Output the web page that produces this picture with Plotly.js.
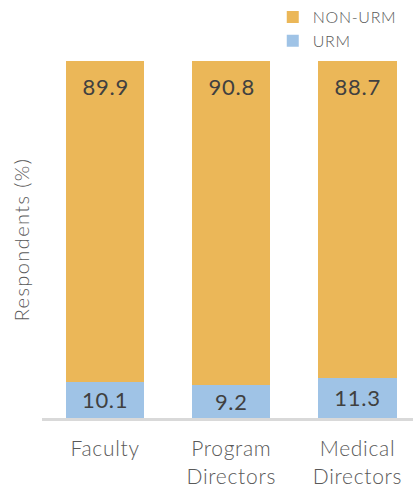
<!DOCTYPE html>
<html>
<head>
<meta charset="utf-8">
<script src="https://cdn.plot.ly/plotly-3.0.1.min.js"></script>
<style>
html,body{margin:0;padding:0;background:#fff;}
#chart{width:413px;height:495px;}
#chart text{letter-spacing:0.7px;}
#chart .g-ytitle text{letter-spacing:1.4px;}
</style>
</head>
<body>
<div id="chart"></div>
<script>
const categories = ['Faculty', 'Program<br>Directors', 'Medical<br>Directors'];
const urm = [10.1, 9.2, 11.3];
const nonUrm = [89.9, 90.8, 88.7];
const seriesNames = ['URM', 'NON-URM'];

const fontFam = 'Lato, "Open Sans", sans-serif';

const traces = [
  {
    type: 'bar', name: seriesNames[0], x: categories, y: urm,
    marker: {color: '#9FC3E6'},
    text: urm.map(v => v.toFixed(1)), textposition: 'inside', insidetextanchor: 'middle',
    textfont: {family: fontFam, size: 22, color: '#404040', weight: 400},
    hoverinfo: 'none', width: 0.62
  },
  {
    type: 'bar', name: seriesNames[1], x: categories, y: nonUrm,
    marker: {color: '#EBB758'},
    hoverinfo: 'none', width: 0.62
  }
];

// labels for the NON-URM segments, placed near the top of each stacked bar
const annotations = categories.map((c, i) => ({
  x: c, y: urm[i] + nonUrm[i], xref: 'x', yref: 'y',
  text: nonUrm[i].toFixed(1), showarrow: false,
  yanchor: 'middle', yshift: -25,
  font: {family: fontFam, size: 22, color: '#404040', weight: 400}
}));

const layout = {
  width: 413, height: 495,
  margin: {l: 42, r: 0, t: 58, b: 77},
  paper_bgcolor: '#fff', plot_bgcolor: '#fff',
  barmode: 'stack',
  showlegend: true,
  annotations: annotations,
  legend: {
    x: 0.622, y: 1.172, xanchor: 'left', yanchor: 'top',
    traceorder: 'reversed',
    font: {family: fontFam, size: 16, color: '#595959', weight: 300},
    tracegroupgap: 0, itemclick: false
  },
  xaxis: {
    range: [-0.5, 2.44],
    showline: true, linecolor: '#D9D9D9', linewidth: 3,
    ticks: '', showgrid: false, zeroline: false,
    tickfont: {family: fontFam, size: 21, color: '#595959', weight: 300},
    ticklabelstandoff: 10
  },
  yaxis: {
    range: [0, 100],
    showticklabels: false, showgrid: false, zeroline: false, showline: false, ticks: '',
    title: {text: 'Respondents (%)', font: {family: fontFam, size: 20, color: '#595959', weight: 300}, standoff: 6}
  }
};

Plotly.newPlot('chart', traces, layout, {displayModeBar: false, staticPlot: true});
</script>
</body>
</html>
